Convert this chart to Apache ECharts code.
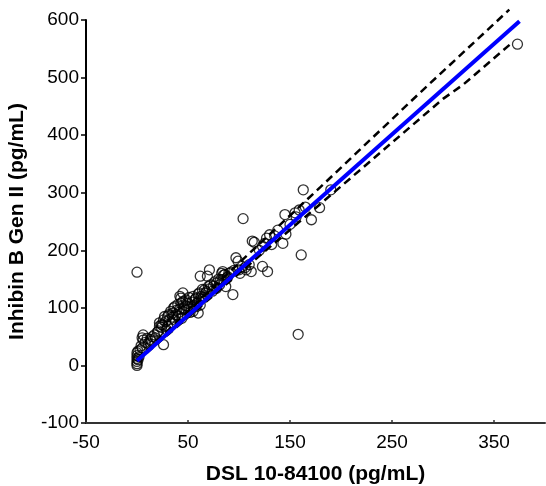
<!DOCTYPE html>
<html>
<head>
<meta charset="utf-8">
<script src="https://cdn.jsdelivr.net/npm/echarts@6/dist/echarts.min.js"></script>
<style>html,body{margin:0;padding:0;background:#fff}#c{width:546px;height:486px}</style>
</head>
<body>
<div id="c"></div>
<script>
// Tick labels
const xTicks = [-50, 50, 150, 250, 350];
const yTicks = [-100, 0, 100, 200, 300, 400, 500, 600];
const xTitle = 'DSL 10-84100 (pg/mL)';
const yTitle = 'Inhibin B Gen II (pg/mL)';

// Observed samples [DSL, Gen II]
const samples = [
  [0,0],[0,3],[0,7],[0,12],[0,17],[0,22],[1,25],[1,10],[2,15],[0,162],
  [3,27],[4,34],[5,30],[6,44],[6,53],[5,48],[8,40],[10,47],[11,38],[13,45],
  [14,42],[15,50],[17,53],[18,48],[20,58],[21,60],[22,68],[22,74],[24,66],[24,71],
  [25,70],[26,36],[26,79],[27,85],[28,76],[29,62],[30,68],[30,85],[31,88],[32,80],
  [33,94],[34,74],[35,91],[35,84],[36,100],[37,79],[37,102],[38,88],[39,96],[40,106],
  [40,85],[41,92],[42,98],[42,120],[43,108],[43,117],[44,82],[45,126],[45,111],[46,100],
  [47,96],[48,114],[48,104],[50,102],[50,108],[51,118],[52,92],[53,98],[54,110],[55,120],
  [55,94],[56,104],[57,115],[58,117],[58,102],[59,108],[60,91],[60,124],[61,126],[61,112],
  [62,105],[62,155],[63,120],[64,132],[65,118],[66,131],[67,125],[68,128],[69,155],[70,137],
  [71,166],[71,133],[72,140],[74,129],[75,138],[76,145],[78,134],[78,143],[80,150],[81,140],
  [82,149],[83,160],[84,163],[84,149],[85,157],[86,158],[87,137],[88,152],[89,154],[90,160],
  [92,162],[94,123],[95,165],[97,187],[99,181],[100,166],[101,160],[103,172],[104,255],[106,170],
  [107,166],[110,175],[112,163],[113,216],[115,214],[120,200],[123,207],[123,172],[125,212],[127,221],
  [128,163],[130,227],[132,210],[135,225],[138,235],[143,212],[145,262],[146,228],[150,245],[155,265],
  [156,258],[158,54],[159,270],[161,192],[163,305],[165,275],[171,253],[179,274],[190,305],[373,558]
];

// Regression line and confidence bounds
const fitLine = [[0, 8], [375, 598]];
const upperBound = [[0, 10], [100, 178], [180, 310], [277, 473], [365, 618]];
const lowerBound = [[0, 7], [100, 160], [200, 311], [300, 463], [320, 488], [366, 558]];

const font = "'Liberation Sans', Arial, sans-serif";
const chart = echarts.init(document.getElementById('c'), null, {renderer: 'canvas'});
chart.setOption({
  animation: false,
  backgroundColor: '#fff',
  grid: {left: 86, top: 20, right: 1, bottom: 63, containLabel: false, outerBoundsMode: 'none'},
  xAxis: {
    type: 'value', min: -50, max: 400,
    name: xTitle, nameLocation: 'middle', nameGap: 41,
    nameTextStyle: {fontFamily: font, fontSize: 21, fontWeight: 'bold', color: '#000'},
    axisLine: {show: true, onZero: false, lineStyle: {color: '#333', width: 2}},
    axisTick: {show: true, inside: true, length: 3, customValues: xTicks, lineStyle: {color: '#333', width: 1.5}},
    axisLabel: {customValues: xTicks, fontFamily: font, fontSize: 19, color: '#000', margin: 10},
    splitLine: {show: false}
  },
  yAxis: {
    type: 'value', min: -100, max: 600, interval: 100,
    name: yTitle, nameLocation: 'middle', nameGap: 58, nameRotate: 90,
    nameTextStyle: {fontFamily: font, fontSize: 21, fontWeight: 'bold', color: '#000'},
    axisLine: {show: true, onZero: false, lineStyle: {color: '#000', width: 2}},
    axisTick: {show: true, inside: false, length: 5, lineStyle: {color: '#000', width: 1.5}},
    axisLabel: {customValues: yTicks, fontFamily: font, fontSize: 19, color: '#000', margin: 7},
    splitLine: {show: false}
  },
  series: [
    {
      type: 'scatter', data: samples, symbol: 'circle', symbolSize: 10, z: 2,
      itemStyle: {color: 'rgba(0,0,0,0)', borderColor: '#000', borderWidth: 1.3}
    },
    {
      type: 'line', data: upperBound, showSymbol: false, clip: false, z: 3,
      lineStyle: {color: '#000', width: 2.5, type: [8, 5]}
    },
    {
      type: 'line', data: lowerBound, showSymbol: false, clip: false, z: 3,
      lineStyle: {color: '#000', width: 2.5, type: [8, 5]}
    },
    {
      type: 'line', data: fitLine, showSymbol: false, clip: false, z: 4,
      lineStyle: {color: '#0000ff', width: 4}
    }
  ]
});
</script>
</body>
</html>
